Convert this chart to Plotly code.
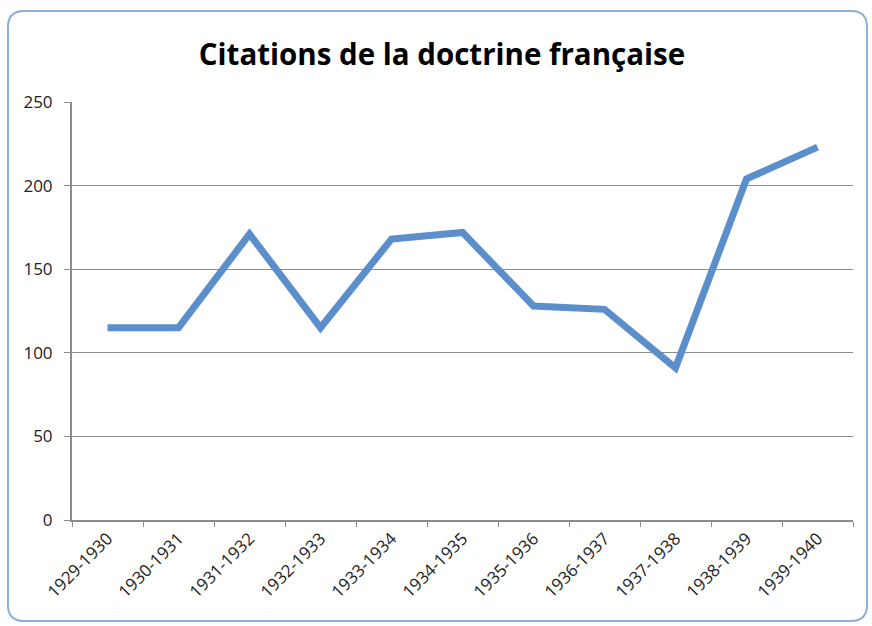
import plotly.graph_objects as go

categories = ["1929-1930", "1930-1931", "1931-1932", "1932-1933", "1933-1934", "1934-1935",
              "1935-1936", "1936-1937", "1937-1938", "1938-1939", "1939-1940"]
citations = [115, 115, 171, 115, 168, 172, 128, 126, 91, 204, 223]
y_ticks = [0, 50, 100, 150, 200, 250]

W, H = 872, 626
L, R, T, B = 72, 853, 102, 520

def px(x):
    return (x - L) / (R - L)

def py(y):
    return (B - y) / (B - T)

FONT = "Open Sans, sans-serif"

fig = go.Figure()
fig.add_trace(go.Scatter(
    x=categories, y=citations, mode="lines",
    line=dict(color="#5A8FCB", width=7),
    hoverinfo="x+y",
))

# rounded border of the chart area
x0, x1, y0, y1, r = 8, 867, 11, 621, 16
path = (f"M {px(x0+r)},{py(y0)} L {px(x1-r)},{py(y0)} Q {px(x1)},{py(y0)} {px(x1)},{py(y0+r)} "
        f"L {px(x1)},{py(y1-r)} Q {px(x1)},{py(y1)} {px(x1-r)},{py(y1)} "
        f"L {px(x0+r)},{py(y1)} Q {px(x0)},{py(y1)} {px(x0)},{py(y1-r)} "
        f"L {px(x0)},{py(y0+r)} Q {px(x0)},{py(y0)} {px(x0+r)},{py(y0)} Z")

fig.update_layout(
    width=W, height=H,
    margin=dict(l=L, r=W - R, t=T, b=H - B),
    paper_bgcolor="white", plot_bgcolor="white",
    showlegend=False,
    title=dict(text="<b>Citations de la doctrine française</b>",
               x=(442 - L) / (R - L), xref="paper", xanchor="center",
               y=1 - 55 / H, yanchor="middle",
               font=dict(family=FONT, size=29.5, color="black")),
    xaxis=dict(type="category", tickangle=-45, showgrid=False,
               showline=True, linecolor="#8c8c8c", linewidth=2,
               ticks="outside", ticklen=5, tickcolor="#8c8c8c",
               tickson="boundaries",
               tickfont=dict(family=FONT, size=17, color="#222"),
               range=[-0.5, 10.5]),
    yaxis=dict(range=[0, 250], tickvals=y_ticks, showgrid=True, gridcolor="#8c8c8c", gridwidth=1,
               showline=True, linecolor="#8c8c8c", linewidth=2,
               ticks="outside", ticklen=6, tickcolor="#8c8c8c",
               ticklabelstandoff=8,
               zeroline=False,
               tickfont=dict(family=FONT, size=17, color="#222")),
    shapes=[dict(type="path", path=path, xref="paper", yref="paper",
                 line=dict(color="#8EAEDC", width=2), layer="below")],
)

fig.write_html("out.html", config={"displayModeBar": False},
               post_script="document.body.style.margin='0';")
